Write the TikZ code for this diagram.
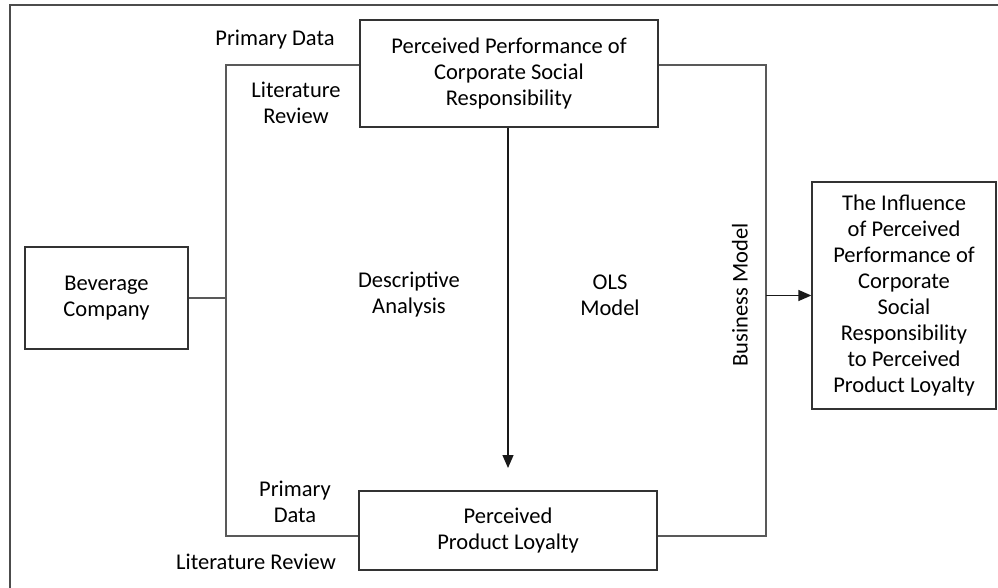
\documentclass[tikz,border=0pt]{standalone}
\usepackage{fontspec}
\setmainfont{Carlito}
\usetikzlibrary{positioning,arrows.meta}

\begin{document}
\begin{tikzpicture}[x=1pt,y=-1pt,
	font=\fontsize{22.5}{26}\selectfont,
	box/.style={draw=black!80,line width=1.3pt,align=center,text=black,inner sep=0pt},
	lbl/.style={align=center,text=black},
	link/.style={draw=black!65,line width=1.3pt},
	tip/.style={-{Triangle[length=13pt,width=11pt]}}]
		\useasboundingbox (0,0) rectangle (998,588);
		\draw[black!70,line width=1.2pt] (10,5) rectangle (1010,600);
		% boxes
		\node[box,minimum width=298,minimum height=107] (csr) at (509,73.5) {Perceived Performance of\\Corporate Social\\Responsibility};
		\node[box,minimum width=163,minimum height=102] (bev) at (106.5,298) {Beverage\\Company};
		\node[box,minimum width=298,minimum height=79] (loy) at (508,530.5) {Perceived\\Product Loyalty};
		\node[box,minimum width=184,minimum height=227] (inf) at (904,295.5) {The Influence\\of Perceived\\Performance of\\Corporate\\Social\\Responsibility\\to Perceived\\Product Loyalty};
		% bracket corners
		\coordinate (lt) at (226,65);
		\coordinate (lb) at (226,536);
		\coordinate (rt) at (766,65);
		\coordinate (rb) at (766,536);
		\coordinate (tipend) at (508,468);
		% connectors
		\draw[link] (csr.west |- lt) -- (lt) -- (lb) -- (loy.west |- lb);
		\draw[link] (bev.east) -- (bev.east -| lt);
		\draw[link] (csr.east |- rt) -- (rt) -- (rb) -- (loy.east |- rb);
		\draw[link,tip,black!90] (csr.south -| tipend) -- (tipend);
		\draw[link,tip,black!90] (rt |- inf.west) -- (inf.west);
		% labels
		\node[lbl] (pd1) at (275,40) {Primary Data};
		\node[lbl] (lr1) at (296,102.5) {Literature\\Review};
		\node[lbl] (da) at (409,294.5) {Descriptive\\Analysis};
		\node[lbl] (ols) at (610,295.5) {OLS\\Model};
		\node[lbl,rotate=90] (bm) at (740,295) {Business Model};
		\node[lbl] (pd2) at (295,501.5) {Primary\\Data};
		\node[lbl] (lr2) at (256,562) {Literature Review};
\end{tikzpicture}
\end{document}
